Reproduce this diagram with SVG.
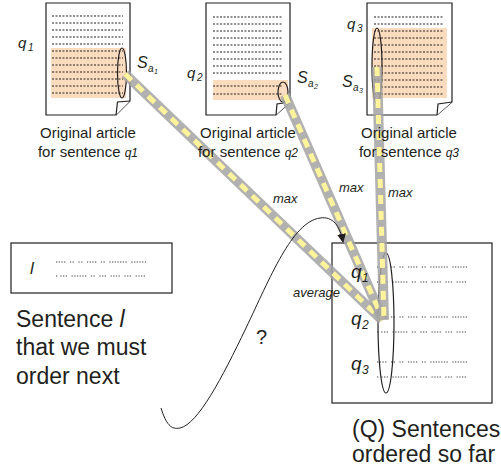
<svg xmlns="http://www.w3.org/2000/svg" width="501" height="470" viewBox="0 0 501 470">
<defs>
<style>
text{font-family:"Liberation Sans",Arial,sans-serif;fill:#231f20}
.it{font-style:italic}
.page{fill:#fff;stroke:#231f20;stroke-width:1.2}
.hl{fill:#fcdcbf}
.dot{stroke:#231f20;stroke-width:1.1;stroke-dasharray:2 1.5}
.oval{fill:none;stroke:#231f20;stroke-width:1.2}
.box{fill:#fff;stroke:#231f20;stroke-width:1.2}
.w1{stroke:#444;stroke-width:1;stroke-dasharray:1.3 1.4 1.3 1.4 1.3 1.4 1.3 4.5 1.3 1.4 1.3 4.5 1.3 1.4 1.3 4.5 1.3 1.4 1.3 1.4 1.3 1.4 1.3 4.5 1.3 1.4 1.3 4.5 1.3 1.4 1.3 1.4 1.3 1.4 1.3 1.4 1.3 1.4 1.3 1.4 1.3 4.5 1.3 1.4 1.3 1.4 1.3 1.4 1.3 1.4 1.3 1.4 1.3 40}
.w2{stroke:#444;stroke-width:1;stroke-dasharray:1.3 3 1.3 1.4 1.3 1.4 1.3 4.5 1.3 1.4 1.3 1.4 1.3 1.4 1.3 1.4 1.3 1.4 1.3 4.5 1.3 1.4 1.3 4.5 1.3 1.4 1.3 1.4 1.3 4.5 1.3 1.4 1.3 1.4 1.3 1.4 1.3 4.5 1.3 1.4 1.3 1.4 1.3 4.5 1.3 1.4 1.3 1.4 1.3 1.4 1.3 40}
.band{fill:none;stroke:#a3a3a3;stroke-width:10;opacity:0.85}
.dash{fill:none;stroke:#fff39b;stroke-width:5;stroke-dasharray:9 7}
.cap{font-size:15px}
.big{font-size:23px}
.lbl{font-size:13px;font-style:italic}
</style>
<marker id="ah" viewBox="0 0 10 10" refX="9" refY="5" markerWidth="9" markerHeight="9" orient="auto" markerUnits="userSpaceOnUse">
<path d="M0,0 L10,5 L0,10 z" fill="#231f20"/>
</marker>
</defs>
<rect width="501" height="470" fill="#fff"/>

<g id="doc1">
<path class="page" d="M46,3 H130 V101 L116,115 H46 Z"/>
<path class="page" d="M116,115 L117.5,102 L130,101"/>
<rect class="hl" x="51" y="48" width="75" height="50"/>
<g class="dot">
<line x1="52" y1="16" x2="123" y2="16"/><line x1="52" y1="23" x2="123" y2="23"/><line x1="52" y1="30" x2="123" y2="30"/><line x1="52" y1="37" x2="123" y2="37"/><line x1="52" y1="44" x2="123" y2="44"/><line x1="52" y1="51" x2="123" y2="51"/><line x1="52" y1="58" x2="123" y2="58"/><line x1="52" y1="65" x2="123" y2="65"/><line x1="52" y1="72" x2="123" y2="72"/><line x1="52" y1="79" x2="123" y2="79"/><line x1="52" y1="86" x2="123" y2="86"/><line x1="52" y1="93" x2="123" y2="93"/>
</g>
<ellipse class="oval" cx="122" cy="73" rx="4.5" ry="25"/>
<text class="it" x="18" y="48" font-size="15">q</text><text class="it" x="28" y="51" font-size="10">1</text>
<text class="it" x="137" y="68" font-size="16">S</text><text class="it" x="148" y="72" font-size="10">a</text><text class="it" x="154" y="74" font-size="7">1</text>
</g>

<g id="doc2">
<path class="page" d="M206,3 H290 V102 L276,115 H206 Z"/>
<path class="page" d="M276,115 L277,104 L290,102"/>
<rect class="hl" x="213" y="80" width="75" height="20"/>
<g class="dot">
<line x1="213" y1="17" x2="283" y2="17"/><line x1="213" y1="24" x2="283" y2="24"/><line x1="213" y1="31" x2="283" y2="31"/><line x1="213" y1="38" x2="283" y2="38"/><line x1="213" y1="45" x2="283" y2="45"/><line x1="213" y1="52" x2="283" y2="52"/><line x1="213" y1="59" x2="283" y2="59"/><line x1="213" y1="66" x2="283" y2="66"/><line x1="213" y1="73" x2="283" y2="73"/><line x1="213" y1="86" x2="283" y2="86"/><line x1="213" y1="94" x2="283" y2="94"/>
</g>
<ellipse class="oval" cx="283" cy="92" rx="5" ry="10"/>
<text class="it" x="187" y="78" font-size="15">q</text><text class="it" x="197" y="81" font-size="10">2</text>
<text class="it" x="297" y="83" font-size="16">S</text><text class="it" x="308" y="87" font-size="10">a</text><text class="it" x="314" y="89" font-size="7">2</text>
</g>

<g id="doc3">
<path class="page" d="M367,3 H452 V102 L437,115 H367 Z"/>
<path class="page" d="M437,115 L438,104 L452,102"/>
<rect class="hl" x="372" y="28" width="75" height="70"/>
<g class="dot">
<line x1="374" y1="17" x2="444" y2="17"/><line x1="374" y1="24" x2="444" y2="24"/><line x1="374" y1="31" x2="444" y2="31"/><line x1="374" y1="38" x2="444" y2="38"/><line x1="374" y1="45" x2="444" y2="45"/><line x1="374" y1="52" x2="444" y2="52"/><line x1="374" y1="59" x2="444" y2="59"/><line x1="374" y1="66" x2="444" y2="66"/><line x1="374" y1="73" x2="444" y2="73"/><line x1="374" y1="80" x2="444" y2="80"/><line x1="374" y1="87" x2="444" y2="87"/><line x1="374" y1="94" x2="444" y2="94"/>
</g>
<ellipse class="oval" cx="377" cy="66" rx="5" ry="38"/>
<text class="it" x="347" y="29" font-size="15">q</text><text class="it" x="357" y="32" font-size="10">3</text>
<text class="it" x="342" y="87" font-size="16">S</text><text class="it" x="353" y="91" font-size="10">a</text><text class="it" x="359" y="93" font-size="7">3</text>
</g>

<g id="sentence">
<rect class="box" x="11" y="243" width="161" height="50"/>
<text class="it" x="30" y="274" font-size="17">l</text>
<line class="w1" x1="56" y1="262" x2="160" y2="262"/>
<line class="w2" x1="56" y1="276" x2="160" y2="276"/>
<text class="big" x="16" y="327">Sentence <tspan class="it">l</tspan></text>
<text class="big" x="16" y="355">that we must</text>
<text class="big" x="16" y="384">order next</text>
</g>

<g id="ordered">
<rect class="box" x="332" y="243" width="160" height="160"/>
<line class="w1" x1="377" y1="267" x2="480" y2="267"/>
<line class="w2" x1="377" y1="282" x2="480" y2="282"/>
<line class="w1" x1="377" y1="317" x2="480" y2="317"/>
<line class="w2" x1="377" y1="332" x2="480" y2="332"/>
<line class="w1" x1="377" y1="362" x2="480" y2="362"/>
<line class="w2" x1="377" y1="377" x2="480" y2="377"/>
<ellipse class="oval" cx="386" cy="323" rx="8" ry="70"/>
<text class="big" x="352" y="437">(Q) Sentences</text>
<text class="big" x="352" y="462">ordered so far</text>
</g>

<g id="connectors">
<path class="band" d="M125,74 L382,320"/>
<path class="dash" d="M125,74 L382,320"/>
<path class="band" d="M285,95 L383,320"/>
<path class="dash" d="M285,95 L383,320"/>
<path class="band" d="M377,67 L384,320"/>
<path class="dash" d="M377,67 L384,320"/>
<path fill="none" stroke="#231f20" stroke-width="1" marker-end="url(#ah)" d="M161,408 C166,424 171,430 180,428 C198,424 222,378 246,328 C270,278 292,222 320,218 C333,216 340,226 343,242"/>
<text class="lbl" x="273" y="203">max</text>
<text class="lbl" x="339" y="192">max</text>
<text class="lbl" x="388" y="197">max</text>
<text class="lbl" x="293" y="297">average</text>
<text x="256" y="344" font-size="20">?</text>
</g>

<g id="qlabels">
<text class="it" x="351" y="278" font-size="19">q</text><text class="it" x="362" y="282" font-size="12">1</text>
<text class="it" x="351" y="325" font-size="19">q</text><text class="it" x="362" y="329" font-size="12">2</text>
<text class="it" x="351" y="370" font-size="19">q</text><text class="it" x="362" y="374" font-size="12">3</text>
</g>

<g id="captions">
<text class="cap" x="88" y="138" text-anchor="middle">Original article</text>
<text class="cap" x="88" y="157" text-anchor="middle">for sentence <tspan class="it" font-size="12">q1</tspan></text>
<text class="cap" x="248" y="138" text-anchor="middle">Original article</text>
<text class="cap" x="248" y="157" text-anchor="middle">for sentence <tspan class="it" font-size="12">q2</tspan></text>
<text class="cap" x="409" y="138" text-anchor="middle">Original article</text>
<text class="cap" x="409" y="157" text-anchor="middle">for sentence <tspan class="it" font-size="12">q3</tspan></text>
</g>
</svg>
